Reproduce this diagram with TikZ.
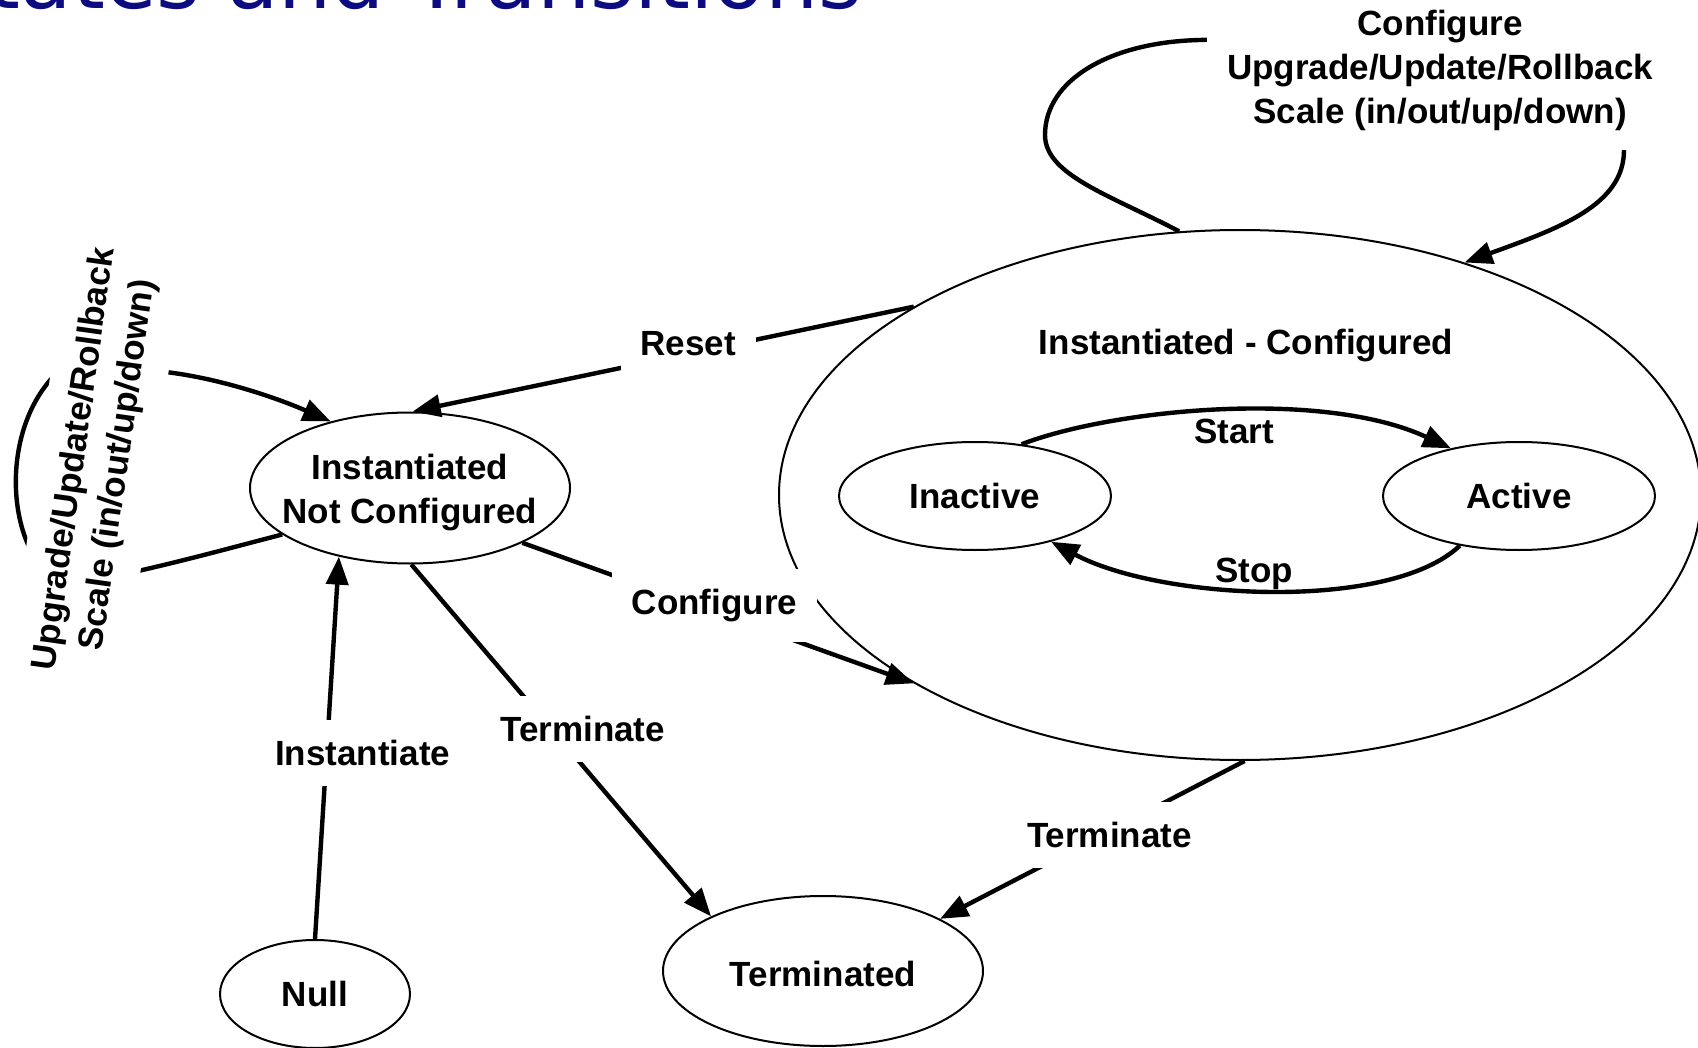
\documentclass[tikz,border=0pt]{standalone}
\usepackage{fontspec}
\setmainfont{Liberation Sans}
\newfontfamily\headfont{DejaVu Sans}
\usetikzlibrary{arrows.meta,shapes.geometric}
\definecolor{headblue}{RGB}{12,12,128}
\begin{document}
\begin{tikzpicture}[x=0.5pt,y=-0.5pt,
  state/.style={draw,ellipse,line width=1pt,inner sep=0pt},
  stname/.style={font=\bfseries\fontsize{17.5}{22}\selectfont,align=center,inner sep=0pt},
  trans/.style={line width=2.2pt,-{Triangle[length=14pt,width=11pt]}},
  evt/.style={font=\bfseries\fontsize{17.5}{22}\selectfont,align=center,fill=white,inner sep=10pt},
  evtbare/.style={font=\bfseries\fontsize{17.5}{22}\selectfont,inner sep=0pt}]
\useasboundingbox (0,0) rectangle (1698,1048);
\clip (0,0) rectangle (1698,1048);

% heading
\node[anchor=base west,inner sep=0pt,font=\headfont\fontsize{42}{42}\selectfont,text=headblue]
  (title) at (-66,9) {States and Transitions};

% states
\node[state,minimum width=160pt,minimum height=75.5pt] (inc) at (410,488) {};
\node[state,minimum width=95pt,minimum height=54pt] (null) at (315,994) {};
\node[state,minimum width=160pt,minimum height=75pt] (term) at (823,971) {};
\node[state,minimum width=461pt,minimum height=265pt] (big) at (1240,495) {};
\node[state,minimum width=136pt,minimum height=54pt] (inact) at (975,496) {};
\node[state,minimum width=136pt,minimum height=54pt] (act) at (1519,496) {};

\node[stname] (incT) at (410,493) {Instantiated\\Not Configured};
\node[stname] (nullT) at (315,994) {Null};
\node[stname] (termT) at (823,974) {Terminated};
\node[stname] (bigT) at (1246,346) {Instantiated - Configured};
\node[stname] (inactT) at (975,496) {Inactive};
\node[stname] (actT) at (1519,496) {Active};

% transitions between states
\draw[trans] (big.150) -- node[evt,pos=0.45,yshift=5pt] {Reset} (inc.88);
\draw[trans] (inc.334) -- node[evt,pos=0.491,yshift=3pt] {Configure} (big.210);
\draw[trans] (inc.271) -- node[evt,pos=0.467,xshift=15.7pt] {Terminate} (term.154);
\draw[trans] (null.90) -- node[evt,pos=0.487,xshift=18pt] {Instantiate} (inc.224);
\draw[trans] (big.271) -- node[evt,pos=0.444,yshift=-2pt] {Terminate} (term.24);

\draw[trans] (inact.48) .. controls (1110,410) and (1320,388) .. (act.145);
\node[evtbare] (startT) at (1234,431) {Start};
\draw[trans] (act.220) .. controls (1390,612) and (1160,600) .. (inact.329);
\node[evtbare] (stopT) at (1254,574) {Stop};

% self loop on the configured state
\draw[trans] (big.103) .. controls (1110,195) and (1045,175) .. (1045,135)
  .. controls (1045,80) and (1110,42) .. (1200,40)
  .. controls (1450,30) and (1624,60) .. (1624,150)
  .. controls (1624,205) and (1560,228) .. (big.46);
\node[evt] (loopTop) at (1440,70) {Configure\\Upgrade/Update/Rollback\\Scale (in/out/up/down)};

% self loop on the not configured state
\draw[trans] (inc.200) .. controls (230,548) and (180,562) .. (120,575)
  -- (40,565)
  .. controls (5,520) and (5,420) .. (60,370)
  -- (140,370)
  .. controls (200,372) and (270,395) .. (inc.140);
\node[evt,rotate=82] (loopSide) at (97,462) {Upgrade/Update/Rollback\\Scale (in/out/up/down)};
\end{tikzpicture}
\end{document}
